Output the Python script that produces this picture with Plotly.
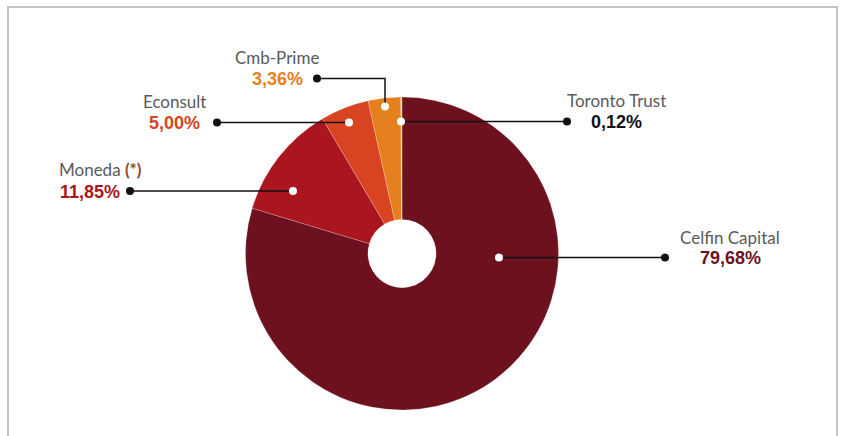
import plotly.graph_objects as go

# ---- data ----
labels = ["Celfin Capital", "Moneda", "Econsult", "Cmb-Prime", "Toronto Trust"]
values = [79.68, 11.85, 5.00, 3.36, 0.12]
value_text = ["79,68%", "11,85%", "5,00%", "3,36%", "0,12%"]
colors = ["#6d111e", "#ab1520", "#d84422", "#e5801e", "#f6d56b"]
text_colors = ["#6d111e", "#ab1520", "#d84422", "#e5801e", "#111111"]

W, H = 843, 436

# ---- callout layout (pixel positions) ----
callouts = {
    "Celfin Capital": dict(path=[(499, 257.5), (665, 257.5)], lx=730, anchor="center", ly1=237, ly2=258),
    "Toronto Trust": dict(path=[(401, 121.5), (567, 121.5)], lx=616, anchor="center", ly1=100, ly2=121.5),
    "Cmb-Prime": dict(path=[(385, 106.5), (385, 78.5), (317, 78.5)], lx=277, anchor="center", ly1=57, ly2=79),
    "Econsult": dict(path=[(349, 122.5), (217, 122.5)], lx=174, anchor="center", ly1=101, ly2=123),
    "Moneda": dict(path=[(293, 191), (130, 191)], lx=57, anchor="left", ly1=169, ly2=191.5),
}

fig = go.Figure()

cx, cy, r = 402, 253.5, 156.5
fig.add_trace(go.Pie(
    labels=labels, values=values, sort=False, direction="clockwise", rotation=0,
    hole=0.218, textinfo="none", hoverinfo="label+percent",
    marker=dict(colors=colors, line=dict(color="rgba(255,255,255,0.35)", width=0.6)),
    domain=dict(x=[(cx - r) / W, (cx + r) / W], y=[1 - (cy + r) / H, 1 - (cy - r) / H]),
    showlegend=False,
))
# invisible trace to keep cartesian axes
fig.add_trace(go.Scatter(x=[0, W], y=[0, H], mode="markers", marker=dict(opacity=0),
                         hoverinfo="skip", showlegend=False))

shapes = [dict(type="path", xref="x", yref="y",
               path="M 8 %d L 8 7 L 837 7 L 837 %d" % (H + 5, H + 5),
               line=dict(color="#c4c4c4", width=2), layer="above")]
annotations = []
dr = 4
for i, lab in enumerate(labels):
    c = callouts[lab]
    pts = c["path"]
    path = "M " + " L ".join("%g %g" % p for p in pts)
    shapes.append(dict(type="path", xref="x", yref="y", path=path,
                       line=dict(color="#111111", width=1.5), layer="above"))
    x0, y0 = pts[0]
    x1, y1 = pts[-1]
    shapes.append(dict(type="circle", xref="x", yref="y", x0=x0 - dr, x1=x0 + dr, y0=y0 - dr, y1=y0 + dr,
                       fillcolor="white", line=dict(width=0), layer="above"))
    shapes.append(dict(type="circle", xref="x", yref="y", x0=x1 - dr, x1=x1 + dr, y0=y1 - dr, y1=y1 + dr,
                       fillcolor="#111111", line=dict(width=0), layer="above"))
    name = lab
    if lab == "Moneda":
        name = "Moneda <b><span style='color:#8b4a2b'>(*)</span></b>"
    annotations.append(dict(x=c["lx"], y=c["ly1"], xref="x", yref="y", text=name, showarrow=False,
                            xanchor=c["anchor"], yanchor="middle",
                            font=dict(family="Lato, Noto Sans, sans-serif", size=17, color="#5a5a5a")))
    annotations.append(dict(x=c["lx"] + (1 if c["anchor"] == "left" else 0), y=c["ly2"], xref="x", yref="y",
                            text="<b>%s</b>" % value_text[i], showarrow=False,
                            xanchor=c["anchor"], yanchor="middle",
                            font=dict(family="Liberation Sans, Arial, sans-serif", size=18, color=text_colors[i])))

fig.update_layout(
    width=W, height=H, margin=dict(l=0, r=0, t=0, b=0),
    paper_bgcolor="white", plot_bgcolor="rgba(0,0,0,0)",
    xaxis=dict(range=[0, W], visible=False, fixedrange=True, domain=[0, 1]),
    yaxis=dict(range=[H, 0], visible=False, fixedrange=True, domain=[0, 1]),
    annotations=annotations,
    shapes=shapes,
)

fig.write_html("out.html", config={"displayModeBar": False})
with open("out.html", encoding="utf-8") as f:
    html = f.read()
html = html.replace("<body>", "<body style=\"margin:0;padding:0;overflow:hidden\">", 1)
with open("out.html", "w", encoding="utf-8") as f:
    f.write(html)
